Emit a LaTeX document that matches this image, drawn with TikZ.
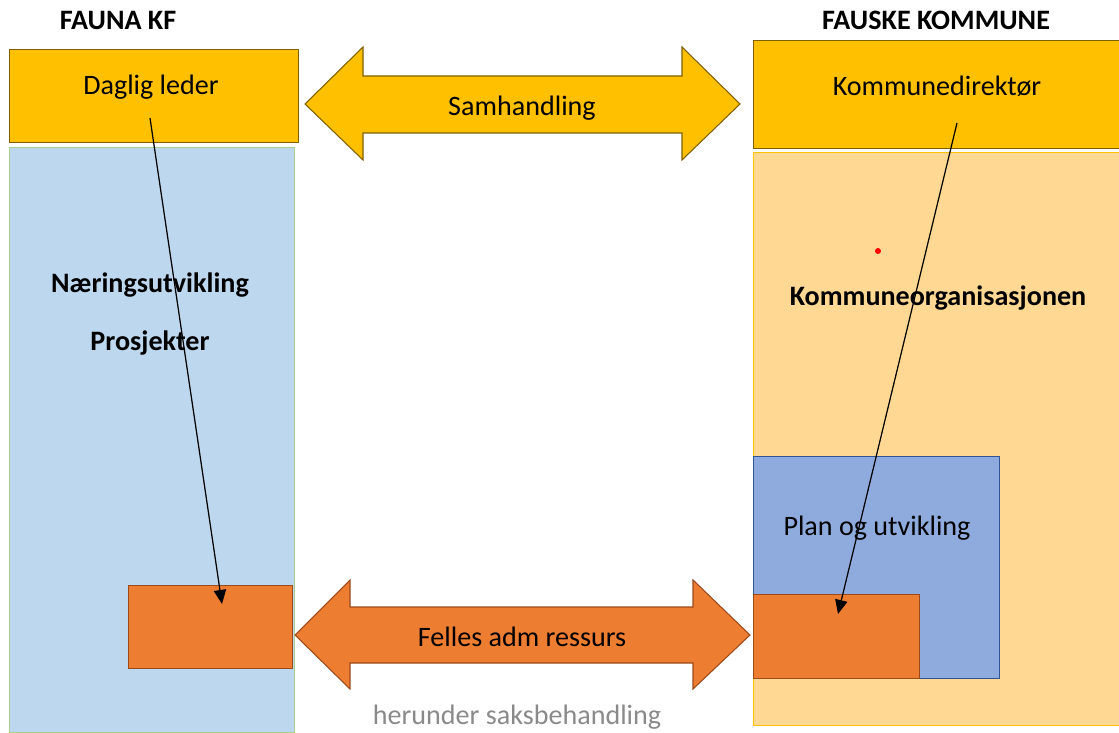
\documentclass[tikz,border=0pt]{standalone}
\usepackage{fontspec}
\setmainfont{Carlito}
\usetikzlibrary{arrows.meta}

\definecolor{gold}{HTML}{FFC000}
\definecolor{goldline}{HTML}{7F6000}
\definecolor{lightgold}{HTML}{FFD993}
\definecolor{paleblue}{HTML}{BDD7EE}
\definecolor{greenline}{HTML}{A9D18E}
\definecolor{planblue}{HTML}{8FAADC}
\definecolor{darkblue}{HTML}{2F5597}
\definecolor{rust}{HTML}{ED7D31}
\definecolor{rustline}{HTML}{9C4A1A}
\definecolor{textgray}{HTML}{8A8A8A}

\tikzset{
    box/.style={rectangle, anchor=north west, inner sep=0pt, line width=.6pt},
    label/.style={font=\fontsize{16}{19}\selectfont},
    head/.style={font=\fontsize{16}{19}\selectfont\bfseries},
    conn/.style={-{Triangle[length=8pt,width=7pt]}, line width=.7pt}
}

\begin{document}
\begin{tikzpicture}[x=0.02cm,y=-0.02cm]
    \useasboundingbox (0,0) rectangle (1119,733);
    % Headings
    \node[head] (fauna) at (118,20) {FAUNA KF};
    \node[head] (fauske) at (936,20) {FAUSKE KOMMUNE};
    % Fauna KF
    \node[box, fill=paleblue, draw=greenline, minimum width=5.70cm, minimum height=11.70cm] (faunabox) at (9,147) {};
    \node[box, fill=gold, draw=goldline, minimum width=5.78cm, minimum height=1.86cm] (daglig) at (9,49) {};
    \node[label] (dagligtxt) at (151,87) {Daglig leder};
    \node[head] (naering) at (150,285) {Næringsutvikling};
    \node[head] (prosj) at (150,343) {Prosjekter};
    \node[box, fill=rust, draw=rustline, minimum width=3.28cm, minimum height=1.66cm] (leftres) at (128,585) {};
    % Fauske kommune
    \node[box, fill=lightgold, draw=gold, minimum width=7.32cm, minimum height=11.46cm] (kommorg) at (753,152) {};
    \node[box, fill=gold, draw=goldline, minimum width=7.32cm, minimum height=2.16cm] (direktor) at (753,40) {};
    \node[label] (direktortxt) at (937,86) {Kommunedirektør};
    \node[head] (orgtxt) at (938,298) {Kommuneorganisasjonen};
    \fill[red] (878,251) circle [radius=3];
    \node[box, fill=planblue, draw=darkblue, minimum width=4.92cm, minimum height=4.44cm] (plan) at (753,456) {};
    \node[label] (plantxt) at (877,528) {Plan og utvikling};
    \node[box, fill=rust, draw=rustline, minimum width=3.32cm, minimum height=1.68cm] (rightres) at (753,594) {};
    % Samhandling
    \filldraw[fill=gold, draw=goldline, line width=.6pt]
        (305,104) -- (363,47) -- (363,76) -- (682,76) -- (682,47) -- (740,104)
        -- (682,160) -- (682,133) -- (363,133) -- (363,160) -- cycle;
    \node[label] (samh) at (522,108) {Samhandling};
    % Felles adm ressurs
    \filldraw[fill=rust, draw=rustline, line width=.6pt]
        (295,635) -- (350,580) -- (350,607) -- (693,607) -- (693,580) -- (750,635)
        -- (693,689) -- (693,663) -- (350,663) -- (350,689) -- cycle;
    \node[label] (felles) at (522,637) {Felles adm ressurs};
    \node[label, text=textgray] (saks) at (517,717) {herunder saksbehandling};
    % Connectors
    \coordinate (dlfoot) at (150,118);
    \coordinate (dlend) at (222,604);
    \coordinate (kdfoot) at (957,123);
    \coordinate (kdend) at (838,614);
    \draw[conn] (dlfoot) -- (dlend);
    \draw[conn] (kdfoot) -- (kdend);
\end{tikzpicture}
\end{document}
